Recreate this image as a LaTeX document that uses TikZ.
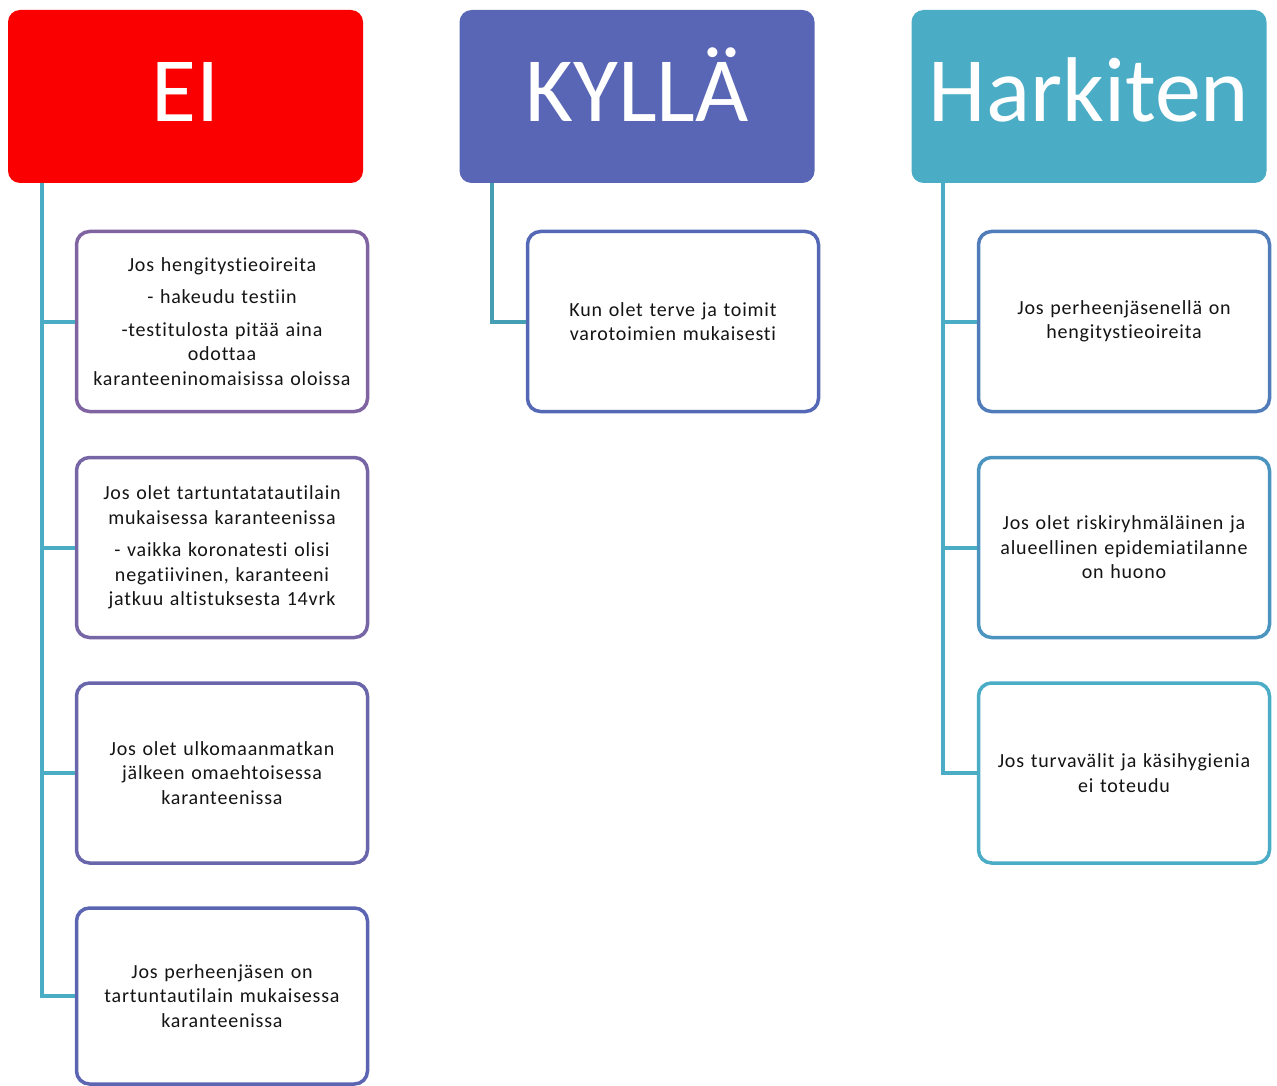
\documentclass[tikz,border=0pt]{standalone}
\usepackage{fontspec}
\setmainfont{Carlito}
\newfontfamily\boxfont[LetterSpace=4,Ligatures=NoCommon]{Carlito}
\definecolor{eired}{RGB}{250,0,0}
\definecolor{kylblue}{RGB}{89,101,181}
\definecolor{harkteal}{RGB}{75,172,198}
\definecolor{conncol}{RGB}{75,172,198}
\definecolor{conndark}{RGB}{70,158,180}
\definecolor{txtcol}{RGB}{20,20,20}
\definecolor{bA}{RGB}{128,100,162}
\definecolor{bB}{RGB}{118,102,166}
\definecolor{bC}{RGB}{106,102,172}
\definecolor{bD}{RGB}{92,101,178}
\definecolor{bK}{RGB}{84,104,182}
\definecolor{hA}{RGB}{80,125,186}
\definecolor{hB}{RGB}{76,148,192}
\definecolor{hC}{RGB}{75,172,198}
\tikzset{
  header/.style={rectangle, rounded corners=12pt, minimum width=355pt, minimum height=173pt,
    text=white, font=\fontsize{92}{100}\selectfont, text height=60pt, text depth=9pt, inner sep=0pt},
  childbox/.style={rectangle, rounded corners=13pt, draw, line width=3.5pt, fill=white,
    minimum width=291pt, minimum height=180pt, align=center, text=txtcol,
    font=\boxfont\fontsize{20}{24.5}\selectfont, text width=285pt, inner sep=0pt},
  conn/.style={line width=4pt, draw=conncol},
}
\begin{document}
\begin{tikzpicture}[x=1pt,y=-1pt]
\useasboundingbox (0,0) rectangle (1277,1086);
% headers
\node[header, fill=eired] (ei) at (185.5,96.5) {EI};
\node[header, fill=kylblue] (kyl) at (637,96.5) {KYLLÄ};
\node[header, fill=harkteal] (hark) at (1089,96.5) {Harkiten};
% EI children
\node[childbox, draw=bA] (e1) at (222,321.5) {Jos hengitystieoireita\\[8pt]- hakeudu testiin\\[8pt]-testitulosta pitää aina\\odottaa\\karanteeninomaisissa oloissa};
\node[childbox, draw=bB] (e2) at (222,547.5) {Jos olet tartuntatatautilain\\mukaisessa karanteenissa\\[8pt]- vaikka koronatesti olisi\\negatiivinen, karanteeni\\jatkuu altistuksesta 14vrk};
\node[childbox, draw=bC] (e3) at (222,773) {Jos olet ulkomaanmatkan\\jälkeen omaehtoisessa\\karanteenissa};
\node[childbox, draw=bD, minimum height=176pt] (e4) at (222,996) {Jos perheenjäsen on\\tartuntautilain mukaisessa\\karanteenissa};
% KYLLA child
\node[childbox, draw=bK] (k1) at (673,321.5) {Kun olet terve ja toimit\\varotoimien mukaisesti};
% Harkiten children
\node[childbox, draw=hA] (h1) at (1124,321.5) {Jos perheenjäsenellä on\\hengitystieoireita};
\node[childbox, draw=hB] (h2) at (1124,547.5) {Jos olet riskiryhmäläinen ja\\alueellinen epidemiatilanne\\on huono};
\node[childbox, draw=hC] (h3) at (1124,773) {Jos turvavälit ja käsihygienia\\ei toteudu};
% trunk start points
\coordinate (eit) at ([xshift=34pt]ei.south west);
\coordinate (kyt) at ([xshift=33pt]kyl.south west);
\coordinate (hat) at ([xshift=32pt]hark.south west);
% connectors
\draw[conn] (eit) |- (e4.west);
\draw[conn] (e1.west -| eit) -- (e1.west);
\draw[conn] (e2.west -| eit) -- (e2.west);
\draw[conn] (e3.west -| eit) -- (e3.west);
\draw[conn, draw=conndark] (kyt) |- (k1.west);
\draw[conn] (hat) |- (h3.west);
\draw[conn] (h1.west -| hat) -- (h1.west);
\draw[conn] (h2.west -| hat) -- (h2.west);
\end{tikzpicture}
\end{document}
